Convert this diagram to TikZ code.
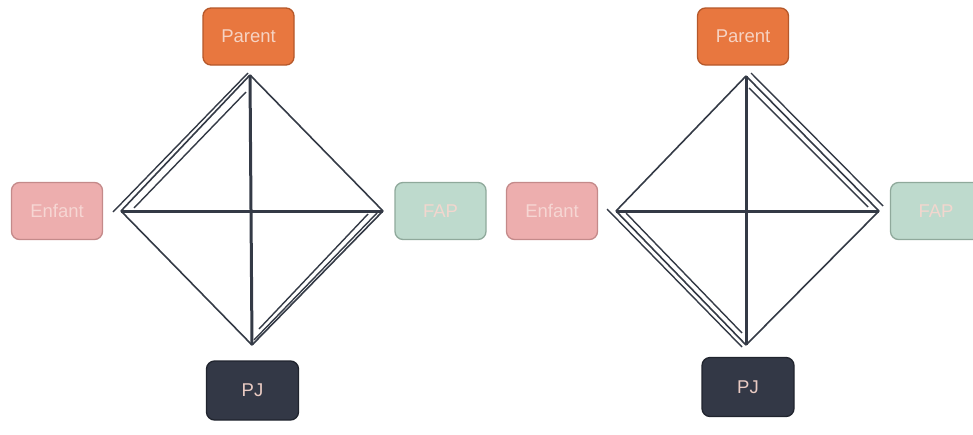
\documentclass[tikz,border=0pt]{standalone}
\usepackage{fontspec}
\setmainfont{Liberation Sans}
\usetikzlibrary{calc}

\definecolor{ink}{HTML}{343A46}
\definecolor{parentfill}{HTML}{E8773F}
\definecolor{parentline}{HTML}{B5582A}
\definecolor{parenttext}{HTML}{F6D3C3}
\definecolor{enfantfill}{HTML}{EDAEAE}
\definecolor{enfantline}{HTML}{C48A8A}
\definecolor{enfanttext}{HTML}{F6D6D3}
\definecolor{fapfill}{HTML}{BEDACD}
\definecolor{fapline}{HTML}{8FA99B}
\definecolor{faptext}{HTML}{F2D6CE}
\definecolor{pjfill}{HTML}{333846}
\definecolor{pjline}{HTML}{20242E}
\definecolor{pjtext}{HTML}{EACBC3}

\tikzset{
  role/.style={draw, line width=1.3pt, rounded corners=8pt, minimum width=91pt,
    minimum height=57pt, inner sep=0pt, font=\fontsize{18.5}{20}\selectfont},
  parentbox/.style={role, fill=parentfill, draw=parentline, text=parenttext},
  enfantbox/.style={role, fill=enfantfill, draw=enfantline, text=enfanttext},
  fapbox/.style={role, fill=fapfill, draw=fapline, text=faptext},
  pjbox/.style={role, fill=pjfill, draw=pjline, text=pjtext, minimum height=59pt, minimum width=92pt},
  axis/.style={draw=ink, line width=3pt},
  edge/.style={draw=ink, line width=1.6pt},
  strand/.style={draw=ink, line width=1.4pt},
}

\begin{document}
\begin{tikzpicture}[x=1pt, y=-1pt]
\useasboundingbox (0,0) rectangle (973,434);
\clip (0,0) rectangle (973,434);

% ---------- left figure ----------
\node[parentbox] (parentA) at (248.5,36.5) {Parent};
\node[enfantbox] (enfantA) at (57,211) {Enfant};
\node[fapbox]    (fapA)    at (440.5,211) {FAP};
\node[pjbox]     (pjA)     at (252.5,390.5) {PJ};

\coordinate (tA) at (250,75);
\coordinate (lA) at (121,211);
\coordinate (rA) at (383,211);
\coordinate (bA) at (252,345);

% triple strand, upper left side
\coordinate (tlAo1) at (113,212);
\coordinate (tlAo2) at (248,73);
\coordinate (tlAi1) at (134,208);
\coordinate (tlAi2) at (246,92);
% triple strand, lower right side
\coordinate (brAi1) at (377,213);
\coordinate (brAi2) at (254,340);
\coordinate (brAj1) at (368,214);
\coordinate (brAj2) at (259,329);

\draw[edge] (tA) -- (rA);
\draw[edge] (lA) -- (bA);
\draw[edge] (lA) -- (tA);
\draw[edge] (rA) -- (bA);
\draw[strand] (tlAo1) -- (tlAo2);
\draw[strand] (tlAi1) -- (tlAi2);
\draw[strand] (brAi1) -- (brAi2);
\draw[strand] (brAj1) -- (brAj2);
\draw[axis] (tA) -- (bA);
\draw[axis] (lA) -- (rA);

% ---------- right figure ----------
\node[parentbox] (parentB) at (743,36.5) {Parent};
\node[enfantbox] (enfantB) at (552,211) {Enfant};
\node[fapbox]    (fapB)    at (936,211) {FAP};
\node[pjbox]     (pjB)     at (748,387) {PJ};

\coordinate (tB) at (746,76);
\coordinate (lB) at (616,211);
\coordinate (rB) at (879,211);
\coordinate (bB) at (746,345);

% triple strand, upper right side
\coordinate (trBo1) at (751,73);
\coordinate (trBo2) at (883,206);
\coordinate (trBi1) at (749,88);
\coordinate (trBi2) at (868,207);
% triple strand, lower left side
\coordinate (blBo1) at (607,209);
\coordinate (blBo2) at (742,347);
\coordinate (blBi1) at (626,213);
\coordinate (blBi2) at (742,333);

\draw[edge] (lB) -- (tB);
\draw[edge] (rB) -- (bB);
\draw[edge] (tB) -- (rB);
\draw[edge] (lB) -- (bB);
\draw[strand] (trBo1) -- (trBo2);
\draw[strand] (trBi1) -- (trBi2);
\draw[strand] (blBo1) -- (blBo2);
\draw[strand] (blBi1) -- (blBi2);
\draw[axis] (tB) -- (bB);
\draw[axis] (lB) -- (rB);
\end{tikzpicture}
\end{document}
